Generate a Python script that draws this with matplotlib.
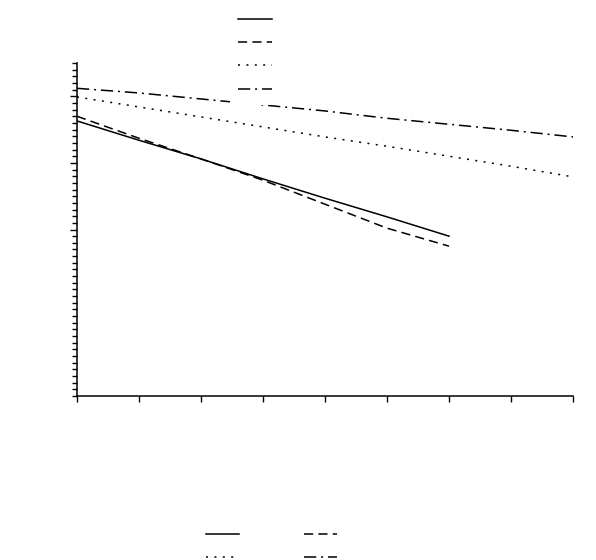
import matplotlib
matplotlib.use("Agg")
import matplotlib.pyplot as plt
from matplotlib.ticker import FixedLocator, MultipleLocator

# category positions along x (nine tick marks, lines start on the first one)
x_cats = [0, 1, 2, 3, 4, 5, 6, 7, 8]

# series values (y axis runs 0..50)
solid_vals = [41.3, 38.4, 35.6, 32.6, 29.7, 26.9, 24.0]
dashed_vals = [42.0, 38.7, 35.6, 32.4, 28.8, 25.2, 22.5]
dotted_vals = [44.9, 43.4, 41.9, 40.4, 38.9, 37.5, 36.0, 34.5, 32.9]
dashdot_vals = [46.2, 45.5, 44.6, 43.7, 42.8, 41.7, 40.8, 39.9, 38.9]

fig = plt.figure(figsize=(5.96, 5.60), dpi=100)
ax = fig.add_axes([77 / 596, 1 - 396 / 560, 496 / 596, 333 / 560])

l_solid, = ax.plot(x_cats[:len(solid_vals)], solid_vals, color='black', lw=1.1,
                   ls='-')
l_dash, = ax.plot(x_cats[:len(dashed_vals)], dashed_vals, color='black', lw=1.1,
                  ls=(0, (6, 3.4)))
l_dot, = ax.plot(x_cats, dotted_vals, color='black', lw=1.1,
                 ls=(0, (1.3, 4.2)))
l_dd, = ax.plot(x_cats, dashdot_vals, color='black', lw=1.1,
                ls=(0, (8, 3.2, 1.3, 3.2)))

ax.set_xlim(0, 8)
ax.set_ylim(0, 50)
ax.xaxis.set_major_locator(MultipleLocator(1))
ax.yaxis.set_major_locator(FixedLocator([25, 35, 45]))
ax.yaxis.set_minor_locator(MultipleLocator(1))
ax.tick_params(axis='both', which='both', direction='out', labelleft=False,
               labelbottom=False, color='black', width=1)
ax.tick_params(axis='y', which='major', length=5)
ax.tick_params(axis='y', which='minor', length=3.5)
ax.tick_params(axis='x', which='major', length=4)
for s in ['top', 'right']:
    ax.spines[s].set_visible(False)
for s in ['left', 'bottom']:
    ax.spines[s].set_linewidth(1.1)

# top legend (texts not shown in the reference); white box hides part of a line
leg1 = fig.legend([l_solid, l_dash, l_dot, l_dd], [' '] * 4, loc='upper left',
                  bbox_to_anchor=(223 / 596, 1 + 2 / 560), fontsize=10,
                  handlelength=2.4, handletextpad=0.3, labelspacing=0.65,
                  borderpad=0.6, frameon=True, fancybox=False)
leg1.get_frame().set_facecolor('white')
leg1.get_frame().set_edgecolor('none')
leg1.get_frame().set_alpha(1)

# bottom legend, two columns (row-wise: solid, dashed / dotted, dash-dot)
leg2 = fig.legend([l_solid, l_dot, l_dash, l_dd], [' '] * 4, loc='upper left',
                  bbox_to_anchor=(195 / 596, 1 - 517 / 560), fontsize=10, ncol=2,
                  handlelength=2.4, handletextpad=0.3, columnspacing=4.0,
                  labelspacing=0.65, borderpad=0.3, frameon=False)

fig.savefig('out.png', dpi=100, facecolor='white')
